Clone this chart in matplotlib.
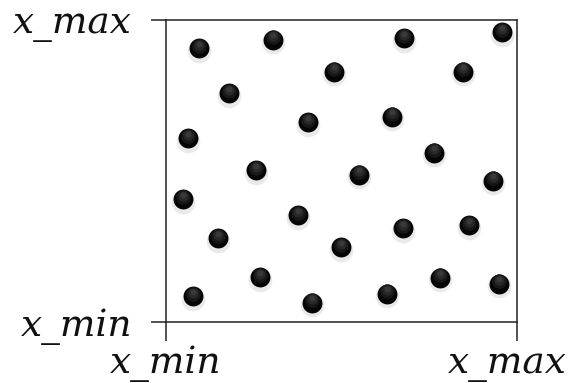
import matplotlib
matplotlib.use("Agg")
import matplotlib.pyplot as plt
import matplotlib.transforms as mtransforms
import numpy as np

x_vals = [0.094, 0.305, 0.678, 0.957, 0.479, 0.846, 0.179, 0.063, 0.405, 0.644,
          0.764, 0.256, 0.550, 0.932, 0.048, 0.376, 0.148, 0.499, 0.675, 0.863,
          0.268, 0.077, 0.416, 0.630, 0.781, 0.949]
y_vals = [0.907, 0.934, 0.940, 0.960, 0.828, 0.828, 0.758, 0.609, 0.662, 0.679,
          0.560, 0.503, 0.487, 0.467, 0.407, 0.354, 0.278, 0.248, 0.311, 0.321,
          0.149, 0.086, 0.063, 0.093, 0.146, 0.126]
tick_labels = ["x_min", "x_max"]

fig = plt.figure(figsize=(5.69, 3.83), dpi=100)
ax = fig.add_axes([166/569, 1-322/383, 351/569, 302/383])
ax.set_xlim(0, 1)
ax.set_ylim(0, 1)

# soft shadow
shadow_tr = mtransforms.offset_copy(ax.transData, fig=fig, x=0, y=-2.5, units='dots')
ax.scatter(x_vals, y_vals, s=290, color='#dddddd', alpha=0.6, linewidths=0,
           transform=shadow_tr, zorder=1)
# sphere body
ax.scatter(x_vals, y_vals, s=205, color='#050505', linewidths=0, zorder=2)
# highlight layers
for k, (sz, col, al) in enumerate([(110, '#1a1a1a', 0.9), (55, '#2a2a2a', 0.9), (18, '#3c3c3c', 0.9)]):
    tr = mtransforms.offset_copy(ax.transData, fig=fig, x=0, y=2.5 + k, units='dots')
    ax.scatter(x_vals, y_vals, s=sz, color=col, alpha=al, linewidths=0,
               transform=tr, zorder=3 + k)

for sp in ax.spines.values():
    sp.set_linewidth(1.1)
    sp.set_color('#222222')

ax.set_xticks([0, 1])
ax.set_yticks([0, 1])
ax.set_xticklabels(tick_labels)
ax.set_yticklabels(tick_labels)
for lab in ax.get_xticklabels() + ax.get_yticklabels():
    lab.set_fontfamily('DejaVu Serif')
    lab.set_fontstyle('italic')
    lab.set_fontsize(27)
    lab.set_color('#111111')
ax.tick_params(axis='x', direction='out', length=14, width=1.1, color='#222222', pad=3)
ax.tick_params(axis='y', direction='out', length=10.5, width=1.1, color='#222222', pad=14)

xl = ax.get_xticklabels()
xl[1].set_transform(xl[1].get_transform() +
                    mtransforms.ScaledTranslation(-10/100, 0, fig.dpi_scale_trans))

fig.savefig("out.png", dpi=100, facecolor='white')
